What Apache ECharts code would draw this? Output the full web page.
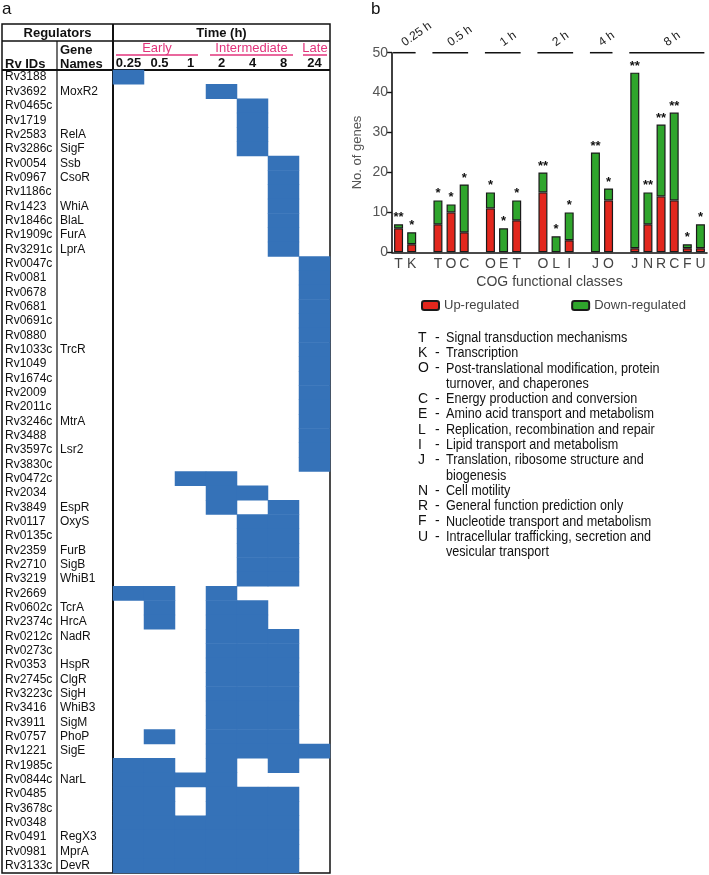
<!DOCTYPE html>
<html>
<head>
<meta charset="utf-8">
<script src="https://cdn.jsdelivr.net/npm/echarts@6/dist/echarts.min.js"></script>
<style>
  html, body { margin: 0; padding: 0; background: #fff; }
  #main { width: 709px; height: 875px; }
</style>
</head>
<body>
<div id="main"></div>
<script>
// 面板 a：调控因子 × 时间点
const timeLabels = ['0.25', '0.5', '1', '2', '4', '8', '24'];
const rvIds = [
  'Rv3188', 'Rv3692', 'Rv0465c', 'Rv1719', 'Rv2583', 'Rv3286c', 'Rv0054', 'Rv0967', 'Rv1186c',
  'Rv1423', 'Rv1846c', 'Rv1909c', 'Rv3291c', 'Rv0047c', 'Rv0081', 'Rv0678', 'Rv0681', 'Rv0691c',
  'Rv0880', 'Rv1033c', 'Rv1049', 'Rv1674c', 'Rv2009', 'Rv2011c', 'Rv3246c', 'Rv3488', 'Rv3597c',
  'Rv3830c', 'Rv0472c', 'Rv2034', 'Rv3849', 'Rv0117', 'Rv0135c', 'Rv2359', 'Rv2710', 'Rv3219',
  'Rv2669', 'Rv0602c', 'Rv2374c', 'Rv0212c', 'Rv0273c', 'Rv0353', 'Rv2745c', 'Rv3223c', 'Rv3416',
  'Rv3911', 'Rv0757', 'Rv1221', 'Rv1985c', 'Rv0844c', 'Rv0485', 'Rv3678c', 'Rv0348', 'Rv0491',
  'Rv0981', 'Rv3133c'
];
const geneNames = [
  '', 'MoxR2', '', '', 'RelA', 'SigF', 'Ssb', 'CsoR', '',
  'WhiA', 'BlaL', 'FurA', 'LprA', '', '', '', '', '',
  '', 'TrcR', '', '', '', '', 'MtrA', '', 'Lsr2',
  '', '', '', 'EspR', 'OxyS', '', 'FurB', 'SigB', 'WhiB1',
  '', 'TcrA', 'HrcA', 'NadR', '', 'HspR', 'ClgR', 'SigH', 'WhiB3',
  'SigM', 'PhoP', 'SigE', '', 'NarL', '', '', '', 'RegX3',
  'MprA', 'DevR'
];
const activeTimes = [
  ['0.25'], ['2'], ['4'], ['4'], ['4'], ['4'], ['8'], ['8'], ['8'],
  ['8'], ['8'], ['8'], ['8'], ['24'], ['24'], ['24'], ['24'], ['24'],
  ['24'], ['24'], ['24'], ['24'], ['24'], ['24'], ['24'], ['24'], ['24'],
  ['24'], ['1', '2'], ['2', '4'], ['2', '8'], ['4', '8'], ['4', '8'], ['4', '8'], ['4', '8'], ['4', '8'],
  ['0.25', '0.5', '2'], ['0.5', '2', '4'], ['0.5', '2', '4'],
  ['2', '4', '8'], ['2', '4', '8'], ['2', '4', '8'], ['2', '4', '8'], ['2', '4', '8'], ['2', '4', '8'],
  ['2', '4', '8'], ['0.5', '2', '4', '8'], ['2', '4', '8', '24'], ['0.25', '0.5', '2', '8'],
  ['0.25', '0.5', '1', '2'], ['0.25', '0.5', '2', '4', '8'], ['0.25', '0.5', '2', '4', '8'],
  ['0.25', '0.5', '1', '2', '4', '8'], ['0.25', '0.5', '1', '2', '4', '8'],
  ['0.25', '0.5', '1', '2', '4', '8'], ['0.25', '0.5', '1', '2', '4', '8']
];
const phaseNames = ['Early', 'Intermediate', 'Late'];

// 面板 b：COG 功能分类
const cogClasses = ['T', 'K', '', 'T', 'O', 'C', '', 'O', 'E', 'T', '', 'O', 'L', 'I', '', 'J', 'O', '', 'J', 'N', 'R', 'C', 'F', 'U'];
const upCounts   = [6, 2, null, 7, 10, 5, null, 11, 0, 8, null, 15, 0, 3, null, 0, 13, null, 1, 7, 14, 13, 1, 1];
const downCounts = [1, 3, null, 6, 2, 12, null, 4, 6, 5, null, 5, 4, 7, null, 25, 3, null, 44, 8, 18, 22, 1, 6];
const signif     = ['**', '*', '', '*', '*', '*', '', '*', '*', '*', '', '**', '*', '*', '', '**', '*', '', '**', '**', '**', '**', '*', '*'];
const groupLabels = ['0.25 h', '0.5 h', '1 h', '2 h', '4 h', '8 h'];
const groupStart = [0, 3, 7, 11, 15, 18];
const groupEnd   = [1, 5, 9, 13, 16, 23];
const yTicks = [0, 10, 20, 30, 40, 50];
const cogLetters = ['T', 'K', 'O', 'C', 'E', 'L', 'I', 'J', 'N', 'R', 'F', 'U'];
const cogDescs = [
  'Signal transduction mechanisms',
  'Transcription',
  'Post-translational modification, protein\nturnover, and chaperones',
  'Energy production and conversion',
  'Amino acid transport and metabolism',
  'Replication, recombination and repair',
  'Lipid transport and metabolism',
  'Translation, ribosome structure and\nbiogenesis',
  'Cell motility',
  'General function prediction only',
  'Nucleotide transport and metabolism',
  'Intracellular trafficking, secretion and\nvesicular transport'
];

const FONT = 'Liberation Sans, Arial, Helvetica, sans-serif';
const BLUE = '#3572b8';
const PINK = '#e2347c';
const RED = '#e2271d';
const GREEN = '#2fa52c';

// 热图数据
const heatData = [];
activeTimes.forEach((ts, r) => {
  ts.forEach(t => heatData.push([timeLabels.indexOf(t), r, 1]));
});

function barItems(arr) {
  return arr.map(v => (v === 0 ? { value: 0, itemStyle: { borderWidth: 0 } } : v));
}

// 表格线与表头
const tL = 2, tR = 330, tT = 24, tB = 873, colGene = 57, colTime = 113;
const graphics = [];
function hline(x1, x2, y, w) {
  graphics.push({ type: 'line', silent: true, shape: { x1: x1, y1: y, x2: x2, y2: y }, style: { stroke: '#111', lineWidth: w || 1.5 } });
}
function vline(x, y1, y2, w) {
  graphics.push({ type: 'line', silent: true, shape: { x1: x, y1: y1, x2: x, y2: y2 }, style: { stroke: '#111', lineWidth: w || 1.5 } });
}
function txt(x, y, s, opt, sx) {
  graphics.push({ type: 'text', silent: true, x: x, y: y, scaleX: sx || 1, style: Object.assign({ text: s, font: '13px ' + FONT, fill: '#111', align: 'left', verticalAlign: 'middle' }, opt || {}) });
}
graphics.push({ type: 'rect', silent: true, shape: { x: tL, y: tT, width: tR - tL, height: tB - tT }, style: { fill: 'none', stroke: '#111', lineWidth: 1.5 } });
hline(tL, tR, 41);
hline(tL, tR, 70, 2);
vline(colGene, 41, tB, 1.2);
vline(colTime, tT, tB, 2);
txt((tL + colTime) / 2, 33, 'Regulators', { font: 'bold 13px ' + FONT, align: 'center' });
txt((colTime + tR) / 2, 33, 'Time (h)', { font: 'bold 13px ' + FONT, align: 'center' });
txt(60, 50, 'Gene', { font: 'bold 13px ' + FONT });
txt(60, 64, 'Names', { font: 'bold 13px ' + FONT });
txt(5, 64, 'Rv IDs', { font: 'bold 13px ' + FONT });
const phaseSpans = [[116, 198], [210, 293], [303, 327]];
phaseNames.forEach((p, i) => {
  const s = phaseSpans[i];
  txt((s[0] + s[1]) / 2, 48, p, { fill: PINK, align: 'center' });
  graphics.push({ type: 'line', silent: true, shape: { x1: s[0], y1: 55, x2: s[1], y2: 55 }, style: { stroke: PINK, lineWidth: 1.5 } });
});
txt(2, 9, 'a', { font: '17px ' + FONT });
txt(371, 9, 'b', { font: '17px ' + FONT });

// 图例下方的 COG 说明
let ly = 338;
cogLetters.forEach((c, i) => {
  txt(418, ly, c, { font: '14px ' + FONT });
  txt(435, ly, '-', { font: '14px ' + FONT });
  graphics.push({ type: 'text', silent: true, x: 446, y: ly - 7.6, scaleX: 0.9, style: { text: cogDescs[i], font: '14px ' + FONT, fill: '#111', lineHeight: 15.3, verticalAlign: 'top' } });
  ly += 15.3 * cogDescs[i].split('\n').length;
});

const myChart = echarts.init(document.getElementById('main'));
const option = {
  animation: false,
  textStyle: { fontFamily: FONT },
  grid: [
    { left: colTime, top: 70, width: tR - colTime, height: tB - 70 },
    { left: 392, top: 52.7, width: 315, height: 199.6 }
  ],
  legend: {
    data: ['Up-regulated', 'Down-regulated'],
    left: 416, top: 294,
    itemWidth: 17, itemHeight: 9, itemGap: 52,
    icon: 'roundRect',
    textStyle: { color: '#444', fontSize: 13, fontFamily: FONT }
  },
  xAxis: [
    {
      gridIndex: 0, type: 'category', position: 'top', data: timeLabels,
      axisLine: { show: false }, axisTick: { show: false }, splitLine: { show: false },
      axisLabel: { margin: 0, color: '#111', fontWeight: 'bold', fontSize: 13, interval: 0 }
    },
    {
      gridIndex: 1, type: 'category', data: cogClasses.map((c, i) => String(i)),
      axisLine: { lineStyle: { color: '#111', width: 1.6 } }, axisTick: { show: false },
      axisLabel: { interval: 0, margin: 5, color: '#444', fontSize: 14, formatter: (v, i) => cogClasses[i] },
      name: 'COG functional classes', nameLocation: 'middle', nameGap: 23,
      nameTextStyle: { color: '#444', fontSize: 14 }
    }
  ],
  yAxis: [
    {
      gridIndex: 0, type: 'category', inverse: true, data: rvIds,
      axisLine: { show: false }, axisTick: { show: false }, splitLine: { show: false },
      axisLabel: {
        interval: 0, margin: 0, align: 'right',
        formatter: (v, i) => '{a|' + rvIds[i] + '}{b|' + (geneNames[i] || ' ') + '}',
        rich: {
          a: { width: 55, align: 'left', fontSize: 12, color: '#111', fontFamily: FONT },
          b: { width: 53, align: 'left', fontSize: 12, color: '#111', fontFamily: FONT }
        }
      }
    },
    {
      gridIndex: 1, type: 'value', min: 0, max: 50, interval: 10,
      axisLine: { show: true, lineStyle: { color: '#111', width: 1.6 } },
      axisTick: { show: true, length: 5, lineStyle: { color: '#111', width: 1.4 } },
      splitLine: { show: false },
      axisLabel: { color: '#555', fontSize: 14, margin: 4, formatter: v => (yTicks.indexOf(v) >= 0 ? v : '') },
      name: 'No. of genes', nameLocation: 'middle', nameGap: 28, nameRotate: 90,
      nameTextStyle: { color: '#555', fontSize: 13 }
    }
  ],
  series: [
    {
      type: 'heatmap', xAxisIndex: 0, yAxisIndex: 0, data: heatData,
      itemStyle: { color: BLUE, borderWidth: 0 }, emphasis: { disabled: true }
    },
    {
      name: 'Up-regulated', type: 'bar', xAxisIndex: 1, yAxisIndex: 1, stack: 'cog',
      data: barItems(upCounts), barWidth: 9,
      itemStyle: { color: RED, borderColor: '#1a1a1a', borderWidth: 1.2 }
    },
    {
      name: 'Down-regulated', type: 'bar', xAxisIndex: 1, yAxisIndex: 1, stack: 'cog',
      data: barItems(downCounts), barWidth: 9,
      itemStyle: { color: GREEN, borderColor: '#1a1a1a', borderWidth: 1.2 },
      label: {
        show: true, position: 'top', distance: 0, color: '#111', fontSize: 13, fontWeight: 'bold',
        formatter: p => signif[p.dataIndex]
      }
    },
    {
      type: 'custom', xAxisIndex: 1, yAxisIndex: 1, clip: false, silent: true, z: 5,
      data: groupLabels.map((g, i) => [groupStart[i], groupEnd[i], i]),
      renderItem: (params, api) => {
        const p1 = api.coord([api.value(0), 50]);
        const p2 = api.coord([api.value(1), 50]);
        const w = api.size([1, 0])[0];
        const x1 = p1[0] - w * 0.42, x2 = p2[0] + w * 0.3;
        const cx = (x1 + x2) / 2;
        return {
          type: 'group',
          children: [
            { type: 'line', shape: { x1: x1, y1: p1[1], x2: x2, y2: p1[1] }, style: { stroke: '#111', lineWidth: 1.5 } },
            {
              type: 'text', x: cx + 2, y: p1[1] - 4, rotation: 35 * Math.PI / 180,
              style: { text: groupLabels[api.value(2)], fill: '#222', font: '12px ' + FONT, align: 'left', verticalAlign: 'bottom' }
            }
          ]
        };
      }
    }
  ],
  graphic: graphics
};
myChart.setOption(option);
</script>
</body>
</html>
